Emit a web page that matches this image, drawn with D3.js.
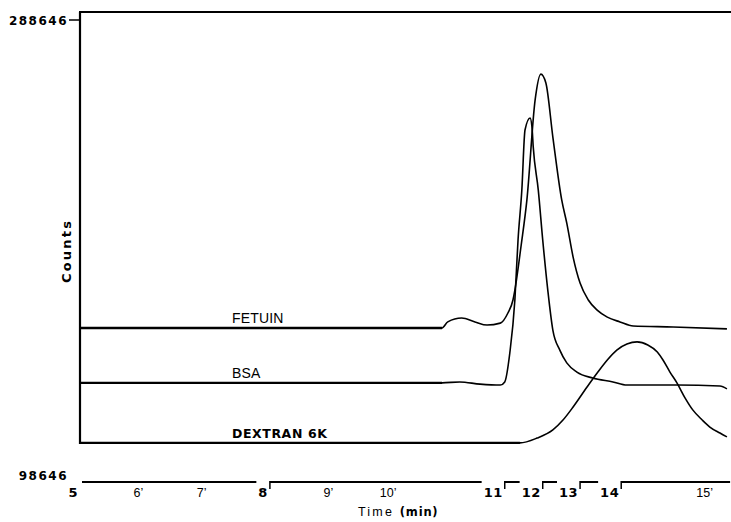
<!DOCTYPE html>
<html>
<head>
<meta charset="utf-8">
<script src="https://cdn.jsdelivr.net/npm/d3@7"></script>
<style>
  body { margin: 0; background: #fff; }
  svg { display: block; }
  .blk { font-family: "DejaVu Sans", sans-serif; font-weight: bold; }
  .reg { font-family: "Liberation Sans", Arial, sans-serif; }
</style>
</head>
<body>
<div id="chart"></div>
<script>
// chromatogram traces, [time in min, counts]
var fetuin = [
  [5.00,160900],[10.72,160900],[10.81,163400],[11.03,165000],[11.24,163400],[11.43,162100],
  [11.64,162900],[11.76,167100],[11.84,172500],[11.87,176600],[11.97,195300],[12.06,214000],
  [12.19,255500],[12.28,266200],[12.36,262500],[12.47,240100],[12.61,214000],[12.69,204400],
  [12.79,190300],[12.90,179500],[13.03,172500],[13.17,168300],[13.33,165400],[13.53,163400],
  [13.74,161700],[14.37,161300],[15.22,160500]
];
var bsa = [
  [5.00,138100],[10.72,138100],[11.00,138500],[11.32,137600],[11.64,137200],[11.71,138500],
  [11.79,150500],[11.87,172500],[11.92,197400],[11.98,218100],[12.03,243000],[12.11,248000],
  [12.14,244300],[12.16,236000],[12.24,218100],[12.31,197400],[12.39,176600],[12.47,160000],
  [12.58,151700],[12.69,146400],[12.85,142600],[13.10,140100],[13.42,138500],[13.64,137200],
  [14.43,137200],[15.11,136800],[15.22,135600]
];
var dextran = [
  [5.00,113200],[11.95,113200],[12.22,115200],[12.47,118600],[12.63,122700],[12.79,128100],
  [13.01,136400],[13.17,142200],[13.33,147600],[13.48,151700],[13.64,154200],[13.80,155100],
  [13.97,153800],[14.12,150900],[14.21,147600],[14.32,142600],[14.43,138100],[14.56,131800],
  [14.68,126900],[14.83,122700],[14.95,119800],[15.11,117300],[15.22,115700]
];
var seriesNames = ["FETUIN", "BSA", "DEXTRAN 6K"];
var seriesBold = [false, false, true];

var countsDomain = [98646, 288646];
var timeDomain = [5, 15];
var timeEnd = 15.27;
var minuteTicks = [6, 7, 9, 10, 15];
var fracNums = [5, 8, 11, 12, 13, 14];
var fracTimes = [5, 8, 11.71, 12.31, 12.90, 13.55];
var labelTime = 7.4;

var W = 731, H = 522;

var svg = d3.select("#chart").append("svg")
    .attr("width", W)
    .attr("height", H);

var x = d3.scaleLinear().domain(timeDomain).range([80, 713]);
var y = d3.scaleLinear().domain(countsDomain).range([478, 20]);

// frame: left axis and top rule
svg.append("line")
    .attr("x1", 80).attr("x2", 80)
    .attr("y1", 12).attr("y2", 444)
    .attr("stroke", "#000").attr("stroke-width", 2.2);
svg.append("line")
    .attr("x1", 79).attr("x2", W)
    .attr("y1", 12).attr("y2", 12)
    .attr("stroke", "#000").attr("stroke-width", 2);

// top count tick
svg.append("line")
    .attr("x1", 69).attr("x2", 80)
    .attr("y1", y(countsDomain[1])).attr("y2", y(countsDomain[1]))
    .attr("stroke", "#000").attr("stroke-width", 1.5);
svg.append("text")
    .attr("class", "blk")
    .attr("x", 68).attr("y", y(countsDomain[1]) + 4.5)
    .attr("text-anchor", "end")
    .attr("font-size", 12).attr("letter-spacing", 1.5)
    .text(countsDomain[1]);
svg.append("text")
    .attr("class", "blk")
    .attr("x", 68).attr("y", y(countsDomain[0]) + 2)
    .attr("text-anchor", "end")
    .attr("font-size", 12).attr("letter-spacing", 1.5)
    .text(countsDomain[0]);

svg.append("text")
    .attr("class", "blk")
    .attr("transform", "translate(71,251) rotate(-90)")
    .attr("text-anchor", "middle")
    .attr("font-size", 13).attr("letter-spacing", 2.2)
    .text("Counts");

// traces
var line = d3.line()
    .x(function(d) { return x(d[0]); })
    .y(function(d) { return y(d[1]); })
    .curve(d3.curveMonotoneX);

[fetuin, bsa, dextran].forEach(function(s, i) {
  svg.append("path")
      .datum(s)
      .attr("fill", "none")
      .attr("stroke", "#000")
      .attr("stroke-width", 1.6)
      .attr("d", line);
  // flat lead-in is plotted heavier
  svg.append("path")
      .datum(s.slice(0, 2))
      .attr("fill", "none")
      .attr("stroke", "#000")
      .attr("stroke-width", 2.4)
      .attr("d", line);
  svg.append("text")
      .attr("class", seriesBold[i] ? "blk" : "reg")
      .attr("x", x(labelTime))
      .attr("y", y(s[0][1]) - 5)
      .attr("font-size", seriesBold[i] ? 12.5 : 14)
      .attr("letter-spacing", seriesBold[i] ? 0.6 : 0.2)
      .text(seriesNames[i]);
});

// time axis with fraction markers
var axisY = 482;
var ax = svg.append("g");

var fracLabels = ax.selectAll(".frac")
    .data(fracNums)
  .enter().append("text")
    .attr("class", "blk frac")
    .attr("x", function(d, i) { return x(fracTimes[i]) - 2; })
    .attr("y", 497)
    .attr("text-anchor", "end")
    .attr("font-size", 13)
    .attr("letter-spacing", 0.5)
    .text(function(d) { return d; });

var starts = fracTimes.map(function(t) { return x(t); });
fracLabels.each(function(d, i) {
  var x0 = starts[i] + (i === 0 ? 2 : 0);
  var x1 = i < fracNums.length - 1 ? this.nextSibling.getBBox().x - 2 : x(timeEnd);
  ax.append("line")
      .attr("x1", x0).attr("x2", x1)
      .attr("y1", axisY).attr("y2", axisY)
      .attr("stroke", "#000").attr("stroke-width", 2);
  if (i > 0) {
    ax.append("line")
        .attr("x1", starts[i]).attr("x2", starts[i])
        .attr("y1", axisY - 1).attr("y2", axisY + 7)
        .attr("stroke", "#000").attr("stroke-width", 1.5);
  }
});

ax.selectAll(".minute")
    .data(minuteTicks)
  .enter().append("text")
    .attr("class", "reg minute")
    .attr("x", function(d) { return x(d); })
    .attr("y", 497)
    .attr("text-anchor", "end")
    .attr("font-size", 12.5)
    .text(function(d) { return d + "\u2019"; });

var title = svg.append("text")
    .attr("x", 358).attr("y", 516)
    .attr("font-size", 12.5);
title.append("tspan").attr("class", "reg").attr("letter-spacing", 2.2).text("Time ");
title.append("tspan").attr("class", "blk").attr("font-size", 11.5).attr("letter-spacing", 0.8).text("(min)");
</script>
</body>
</html>
